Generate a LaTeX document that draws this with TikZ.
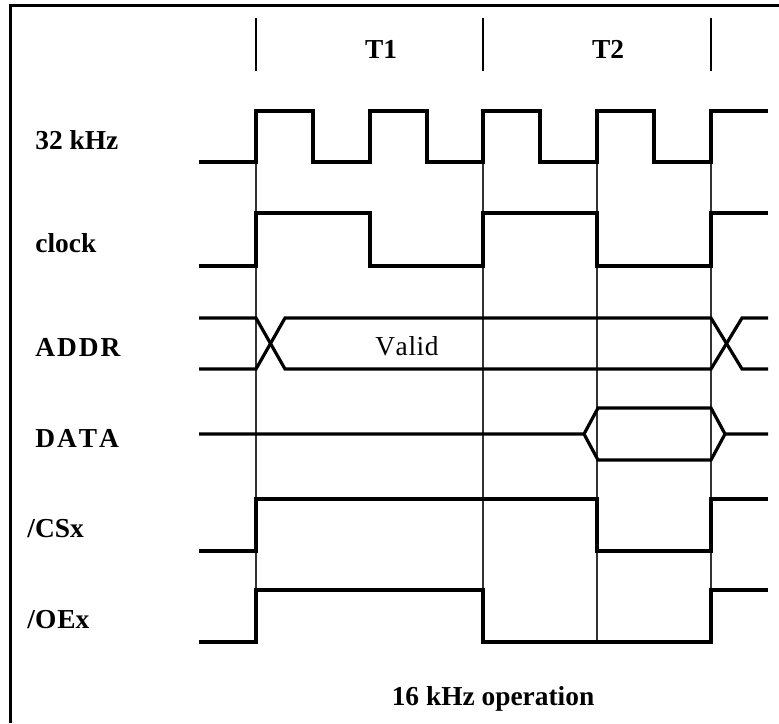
\documentclass[tikz,border=0pt]{standalone}
\usepackage{fontspec}
\setmainfont{Liberation Serif}
\begin{document}
\begin{tikzpicture}[x=0.5pt,y=-0.5pt]
  \tikzstyle{sigLine}=[line width=1.6pt, line join=miter]
  \tikzstyle{guideLine}=[line width=0.6pt, draw=black!80]
  \tikzstyle{markLine}=[line width=1pt]
  \tikzstyle{frameLine}=[line width=1.5pt]
  \tikzstyle{sigName}=[anchor=base west, inner sep=0pt, font=\fontsize{13.7}{16}\selectfont\bfseries]
  \tikzstyle{period}=[anchor=base, inner sep=0pt, font=\fontsize{13.7}{16}\selectfont\bfseries]
  \tikzstyle{busText}=[anchor=base, inner sep=0pt, font=\fontsize{13.7}{16}\selectfont]

  \useasboundingbox (0,0) rectangle (779,723);
  \draw[frameLine] (10,723) -- (10,5) -- (779,5);

  % period markers
  \draw[markLine] (256,18) -- (256,71);
  \draw[markLine] (483,18) -- (483,71);
  \draw[markLine] (711,18) -- (711,71);
  \node[period](t1) at (381,58) {T1};
  \node[period](t2) at (608,58) {T2};

  % thin guide lines
  \draw[guideLine] (256,162) -- (256,642);
  \draw[guideLine] (483,162) -- (483,642);
  \draw[guideLine] (597,162) -- (597,642);
  \draw[guideLine] (711,162) -- (711,642);

  % signal names
  \node[sigName](fast) at (35,149) {32 kHz};
  \node[sigName](clk) at (35,252) {clock};
  \node[sigName](addr) at (35,356) {A\kern1pt D\kern1pt D\kern1pt R};
  \node[sigName](data) at (35,447) {D\kern1pt A\kern1pt T\kern1pt A};
  \node[sigName](cs) at (27,537) {/CSx};
  \node[sigName](oe) at (27,628) {/O\kern0.5pt Ex};

  % 32 kHz
  \draw[sigLine] (199,162) -- (256,162) -- (256,111) -- (313,111) -- (313,162) -- (370,162)
    -- (370,111) -- (427,111) -- (427,162) -- (483,162) -- (483,111) -- (540,111)
    -- (540,162) -- (597,162) -- (597,111) -- (654,111) -- (654,162) -- (711,162)
    -- (711,111) -- (768,111);

  % clock
  \draw[sigLine] (199,266) -- (256,266) -- (256,213) -- (370,213) -- (370,266) -- (483,266)
    -- (483,213) -- (597,213) -- (597,266) -- (711,266) -- (711,213) -- (768,213);

  % ADDR
  \draw[sigLine] (199,318) -- (256,318) -- (285,369) -- (711,369) -- (742,318) -- (768,318);
  \draw[sigLine] (199,369) -- (256,369) -- (285,318) -- (711,318) -- (742,369) -- (768,369);
  \node[busText](valid) at (407,355) {V\kern0.3pt a\kern0.3pt l\kern0.3pt i\kern0.3pt d};

  % DATA
  \draw[sigLine] (199,434) -- (584,434) -- (598,408) -- (711,408) -- (725,434) -- (768,434);
  \draw[sigLine] (584,434) -- (598,460) -- (711,460) -- (725,434);

  % /CSx
  \draw[sigLine] (199,551) -- (256,551) -- (256,499) -- (597,499) -- (597,551) -- (711,551)
    -- (711,499) -- (768,499);

  % /OEx
  \draw[sigLine] (199,642) -- (256,642) -- (256,590) -- (483,590) -- (483,642) -- (711,642)
    -- (711,590) -- (768,590);

  \node[period](mode) at (493,705) {16 kHz operation};
\end{tikzpicture}
\end{document}
